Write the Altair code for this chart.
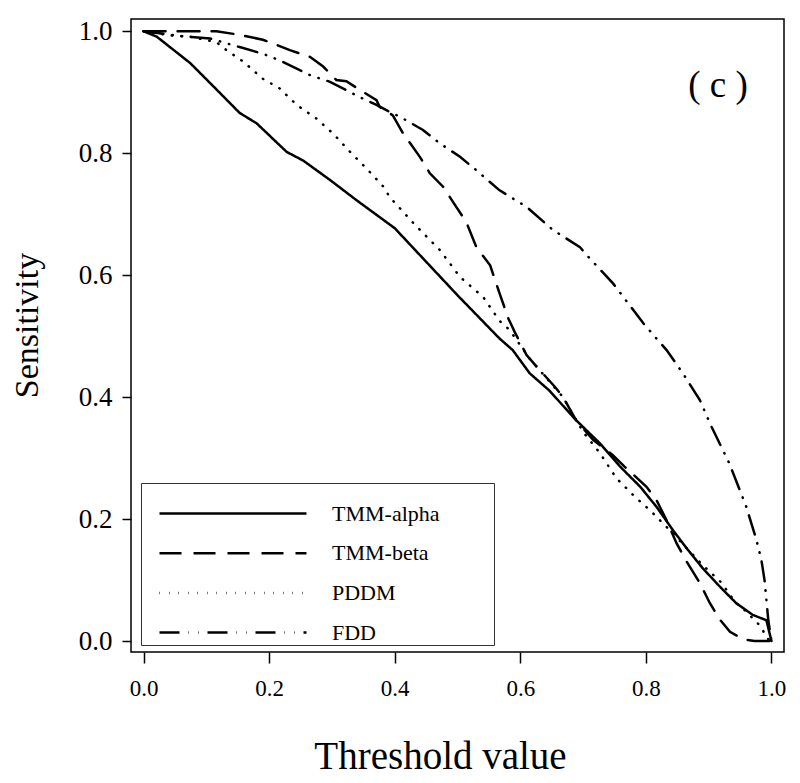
import altair as alt
import pandas as pd

series_names = ["TMM-alpha", "TMM-beta", "PDDM", "FDD"]

alpha_x = [0, 0.021, 0.074, 0.106, 0.153, 0.18, 0.228, 0.254, 0.297, 0.339, 0.4, 0.45, 0.5, 0.567,
           0.588, 0.615, 0.646, 0.689, 0.727, 0.759, 0.791, 0.817, 0.843, 0.865, 0.89, 0.918, 0.944,
           0.97, 0.992, 1.0]
alpha_y = [1.0, 0.991, 0.948, 0.915, 0.866, 0.849, 0.802, 0.788, 0.756, 0.723, 0.677, 0.622, 0.567, 0.496,
           0.477, 0.439, 0.411, 0.362, 0.324, 0.286, 0.253, 0.220, 0.182, 0.152, 0.12, 0.089, 0.062,
           0.043, 0.034, 0.0]

beta_x = [0, 0.058, 0.116, 0.153, 0.19, 0.206, 0.233, 0.265, 0.286, 0.307, 0.323, 0.344, 0.371, 0.376,
          0.397, 0.413, 0.44, 0.456, 0.477, 0.498, 0.514, 0.53, 0.552, 0.567, 0.581, 0.591, 0.61, 0.626,
          0.655, 0.668, 0.689, 0.716, 0.747, 0.766, 0.801, 0.817, 0.833, 0.849, 0.865, 0.886, 0.902,
          0.918, 0.934, 0.955, 0.973, 1.0]
beta_y = [1.0, 1.0, 1.0, 0.994, 0.986, 0.98, 0.969, 0.958, 0.942, 0.92, 0.918, 0.904, 0.887, 0.876,
          0.862, 0.833, 0.794, 0.767, 0.745, 0.712, 0.687, 0.646, 0.616, 0.57, 0.529, 0.507, 0.469, 0.45,
          0.417, 0.40, 0.362, 0.33, 0.305, 0.286, 0.253, 0.231, 0.198, 0.16, 0.13, 0.095, 0.062,
          0.035, 0.015, 0.003, 0.0, 0.0]

pddm_x = [0, 0.042, 0.074, 0.116, 0.132, 0.159, 0.19, 0.217, 0.244, 0.275, 0.302, 0.329, 0.355, 0.382,
          0.392, 0.43, 0.472, 0.504, 0.541, 0.567, 0.583, 0.615, 0.668, 0.70, 0.727, 0.753, 0.782,
          0.809, 0.833, 0.86, 0.89, 0.92, 0.942, 0.957, 0.984, 0.992, 1.0]
pddm_y = [1.0, 0.993, 0.991, 0.982, 0.969, 0.95, 0.922, 0.906, 0.879, 0.857, 0.832, 0.802, 0.775, 0.745,
          0.728, 0.685, 0.641, 0.597, 0.564, 0.525, 0.51, 0.463, 0.40, 0.343, 0.308, 0.267, 0.237,
          0.212, 0.187, 0.158, 0.125, 0.096, 0.064, 0.051, 0.023, 0.005, 0.0]

fdd_x = [0, 0.068, 0.106, 0.153, 0.19, 0.217, 0.265, 0.297, 0.344, 0.371, 0.397, 0.408, 0.445, 0.472,
         0.504, 0.53, 0.567, 0.61, 0.652, 0.695, 0.703, 0.748, 0.796, 0.833, 0.859, 0.886, 0.902, 0.933,
         0.96, 0.976, 0.984, 0.989, 0.992, 0.995, 1.0]
fdd_y = [1.0, 0.991, 0.988, 0.974, 0.963, 0.952, 0.928, 0.917, 0.892, 0.879, 0.865, 0.86, 0.838, 0.816,
         0.794, 0.772, 0.739, 0.712, 0.674, 0.646, 0.636, 0.586, 0.521, 0.477, 0.439, 0.395, 0.357, 0.291,
         0.22, 0.166, 0.133, 0.10, 0.067, 0.034, 0.0]

tick_values = [0.0, 0.2, 0.4, 0.6, 0.8, 1.0]
panel_label = ["( c )"]
panel_label_x = [0.915]
panel_label_y = [0.91]

rows = []
for name, xs, ys in zip(series_names, [alpha_x, beta_x, pddm_x, fdd_x], [alpha_y, beta_y, pddm_y, fdd_y]):
    for i, (xv, yv) in enumerate(zip(xs, ys)):
        rows.append({"series": name, "x": xv, "y": yv, "order": i})
df = pd.DataFrame(rows)
label_df = pd.DataFrame({"text": panel_label, "x": panel_label_x, "y": panel_label_y})

FONT = "Liberation Serif"
xscale = alt.Scale(domain=[-0.02, 1.02], nice=False, zero=False)
yscale = alt.Scale(domain=[-0.018, 1.02], nice=False, zero=False)

dash_range = [[1, 0], [22, 12], [0.5, 9], [20, 9, 0.5, 9, 0.5, 9]]

# invisible spacer title that widens the legend box (R legends leave room on the right)
legend_spacer = "M" * 22 + "nn"

lines = alt.Chart(df).mark_line(strokeWidth=2.5, color="black", strokeCap="round").encode(
    x=alt.X("x:Q", scale=xscale,
            axis=alt.Axis(values=tick_values, format=".1f", title="Threshold value",
                          labelPadding=14, titlePadding=37, tickSize=11, titleFontSize=39,
                          labelFontSize=23, titleX=309, titleAlign="center")),
    y=alt.Y("y:Q", scale=yscale,
            axis=alt.Axis(values=tick_values, format=".1f", title="Sensitivity",
                          labelPadding=10, titlePadding=34, tickSize=9, titleFontSize=34,
                          labelFontSize=27, titleY=306, titleAlign="center")),
    strokeDash=alt.StrokeDash(
        "series:N",
        scale=alt.Scale(domain=series_names, range=dash_range),
        legend=alt.Legend(
            title=legend_spacer, titleFontSize=16, titlePadding=2, titleOpacity=0,
            titleLimit=500, titleFont=FONT,
            orient="none", legendX=10, legendY=464,
            padding=1, strokeColor="#333333", fillColor="white",
            symbolType="M0.6,0L15.3,0", symbolSize=400, symbolStrokeWidth=2.5,
            symbolStrokeColor="black", symbolFillColor="transparent",
            labelFont=FONT, labelFontSize=22, labelColor="black",
            labelOffset=167, rowPadding=16.7,
        ),
    ),
    order="order:Q",
)

label = alt.Chart(label_df).mark_text(font=FONT, fontSize=37, color="black", baseline="middle",
                                      align="center").encode(
    x=alt.X("x:Q", scale=xscale), y=alt.Y("y:Q", scale=yscale), text="text:N")

chart = alt.layer(lines, label).properties(
    width=653, height=633,
    autosize=alt.AutoSizeParams(type="none"),
    padding={"left": 123, "top": 11, "right": 8, "bottom": 131},
).configure_view(stroke="black", strokeWidth=1.5).configure_axis(
    domain=False, grid=False, tickColor="black", tickWidth=1.5,
    labelFont=FONT, labelColor="black",
    titleFont=FONT, titleColor="black", titleFontWeight="normal",
)

chart.save("out.html", embed_options={"renderer": "svg", "actions": False})
